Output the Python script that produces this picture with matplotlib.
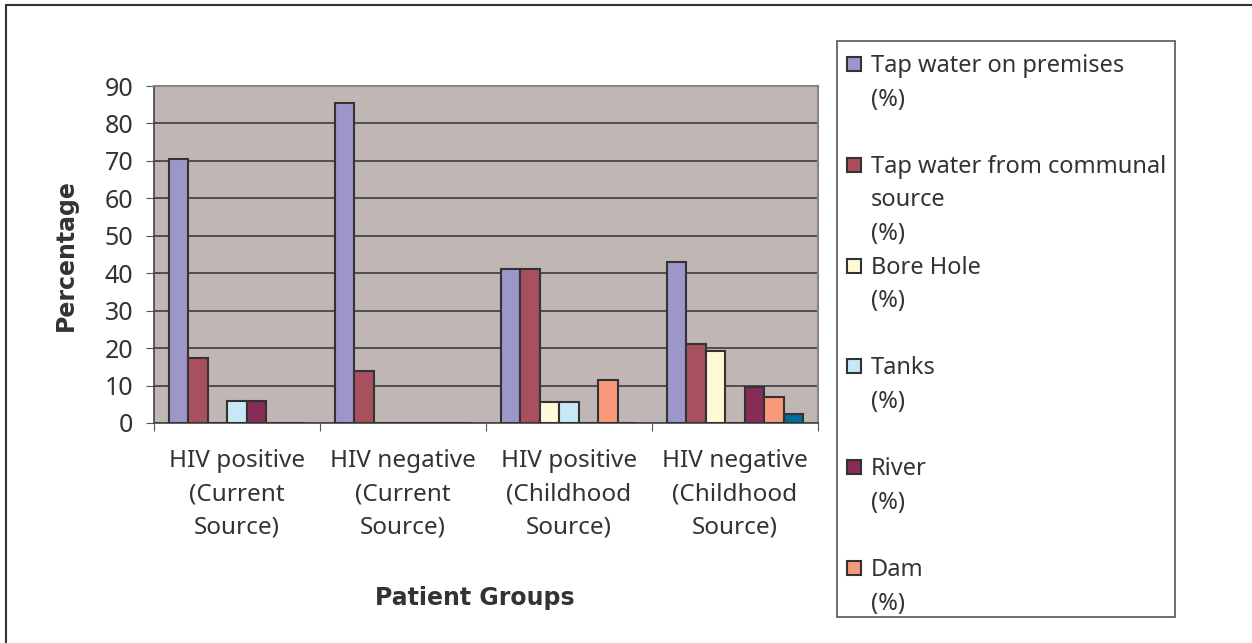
import numpy as np
import matplotlib
matplotlib.use('Agg')
import matplotlib.pyplot as plt
from matplotlib.patches import Rectangle

matplotlib.rcParams['font.family'] = ['Noto Sans', 'DejaVu Sans']
txt = '#333333'

groups = ['HIV positive\n(Current\nSource)', 'HIV negative\n(Current\nSource)',
          'HIV positive\n(Childhood\nSource)', 'HIV negative\n(Childhood\nSource)']
series = ['Tap water on premises\n(%)', 'Tap water from communal\nsource\n(%)',
          'Bore Hole\n(%)', 'Tanks\n(%)', 'River\n(%)', 'Dam\n(%)', 'Other\n(%)']
premises = [70.6, 85.5, 41.1, 43.0]
communal = [17.4, 13.9, 41.1, 21.1]
bore_hole = [0, 0, 5.7, 19.1]
tanks = [5.8, 0, 5.7, 0]
river = [5.8, 0, 0, 9.5]
dam = [0, 0, 11.4, 7.0]
other = [0, 0, 0, 2.5]
values = [premises, communal, bore_hole, tanks, river, dam, other]
colors = ['#9D97C9', '#A8505E', '#FFFAD5', '#C8E8F8', '#862C56', '#F7997A', '#006D9E']
n_legend = 6   # the last series is cut off in the legend box

fig = plt.figure(figsize=(12.52, 6.43), dpi=100)
ax = fig.add_axes([154/1252, 1-423/643, 664/1252, 337/643])
ax.set_facecolor('#C0B6B4')

x = np.arange(len(groups))
w = 1/8.5
for i, v in enumerate(values):
    ax.bar(x - 3.5*w + (i+0.5)*w, v, width=w, color=colors[i],
           edgecolor='#333333', linewidth=1.5, zorder=3)

ax.set_xlim(-0.5, 3.5)
ax.set_ylim(0, 90)
ax.set_yticks(range(0, 91, 10))
ax.yaxis.grid(True, color='#3c3c3c', linewidth=1.2, zorder=1)
ax.set_axisbelow(True)

ax.set_xticks(np.arange(-0.5, 4, 1))
ax.set_xticklabels([])
ax.set_xticks(x, minor=True)
ax.set_xticklabels(groups, minor=True, fontsize=17.5, color=txt, linespacing=1.5)
ax.tick_params(axis='x', which='minor', length=0, pad=19)
ax.tick_params(axis='x', which='major', length=6, color='#555555')
ax.tick_params(axis='y', length=6, pad=9, labelsize=18, labelcolor=txt, color='#555555')

for s in ['left', 'bottom']:
    ax.spines[s].set_color('#444444')
    ax.spines[s].set_linewidth(1.2)
for s in ['top', 'right']:
    ax.spines[s].set_color('#8c8282')
    ax.spines[s].set_linewidth(1.5)

fig.text(66/1252, 1-255/643, 'Percentage', rotation=90, ha='center', va='center',
         fontsize=17, fontweight='bold', color=txt, family='DejaVu Sans')
fig.text(475/1252, 1-598/643, 'Patient Groups', ha='center', va='center',
         fontsize=17, fontweight='bold', color=txt, family='DejaVu Sans')

# legend box
fig.patches.append(Rectangle((837/1252, 1-617/643), 338/1252, 576/643,
                             transform=fig.transFigure, facecolor='white',
                             edgecolor='#555555', linewidth=1.2))
for i in range(n_legend):
    yc = 64 + i*100.8
    fig.patches.append(Rectangle((847/1252, 1-(yc+7)/643), 14/1252, 14/643,
                                 transform=fig.transFigure, facecolor=colors[i],
                                 edgecolor='#333333', linewidth=1.5))
    fig.text(871/1252, 1-(yc-10)/643, series[i], ha='left', va='top',
             fontsize=17, color=txt, linespacing=1.53)

# outer chart border
fig.patches.append(Rectangle((6/1252, -0.1), 1.2, 1.1 - 5/643,
                             transform=fig.transFigure, facecolor='none',
                             edgecolor='#333333', linewidth=1.5))

fig.savefig('out.png', dpi=100)
